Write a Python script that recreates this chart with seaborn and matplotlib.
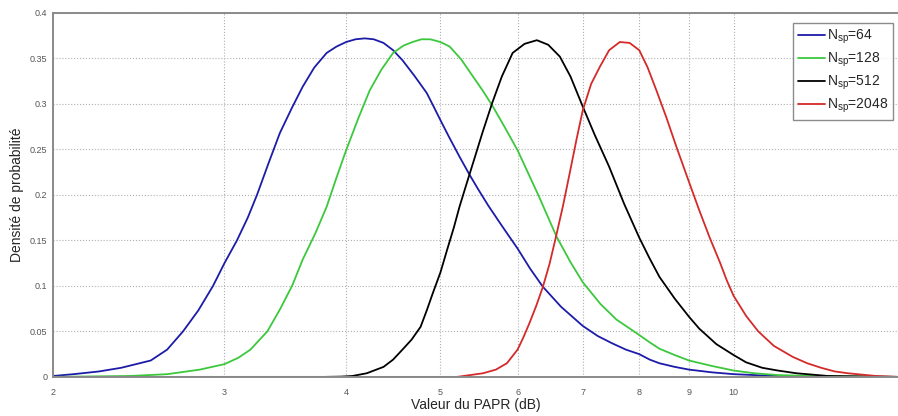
import numpy as np
import pandas as pd
import matplotlib
matplotlib.use("Agg")
import matplotlib.pyplot as plt
import seaborn as sns

# --- data (x in dB, y = density) ---
x_64 = [2.0, 2.1, 2.23, 2.35, 2.52, 2.62, 2.72, 2.82, 2.92, 3.0, 3.09, 3.17, 3.24,
        3.33, 3.42, 3.52, 3.61, 3.71, 3.82, 3.91, 4.0, 4.09, 4.18, 4.27, 4.37, 4.47,
        4.57, 4.7, 4.84, 4.92, 5.0, 5.1, 5.23, 5.35, 5.46, 5.6, 5.79, 6.0, 6.18, 6.37,
        6.65, 7.0, 7.25, 7.5, 7.75, 8.0, 8.2, 8.39, 8.7, 9.0, 9.5, 10.0, 10.5, 11.0,
        12.0, 14.75]
y_64 = [0.001, 0.003, 0.006, 0.010, 0.018, 0.030, 0.050, 0.073, 0.100, 0.125, 0.150,
        0.175, 0.200, 0.235, 0.268, 0.296, 0.319, 0.340, 0.356, 0.363, 0.368, 0.371,
        0.372, 0.371, 0.367, 0.359, 0.348, 0.331, 0.312, 0.297, 0.282, 0.264, 0.242,
        0.223, 0.207, 0.188, 0.165, 0.141, 0.119, 0.099, 0.077, 0.056, 0.045, 0.037,
        0.030, 0.025, 0.019, 0.015, 0.011, 0.008, 0.005, 0.003, 0.002, 0.001, 0.0, 0.0]

x_128 = [2.0, 2.4, 2.62, 2.83, 3.0, 3.1, 3.19, 3.32, 3.42, 3.52, 3.61, 3.72, 3.82,
         3.91, 4.0, 4.12, 4.23, 4.35, 4.47, 4.58, 4.68, 4.78, 4.88, 5.0, 5.11, 5.25,
         5.40, 5.53, 5.66, 5.83, 6.0, 6.3, 6.58, 6.8, 7.0, 7.3, 7.58, 7.8, 8.0, 8.2,
         8.39, 8.7, 9.0, 9.5, 10.0, 10.5, 11.1, 12.0, 14.75]
y_128 = [0.0, 0.001, 0.003, 0.008, 0.014, 0.021, 0.030, 0.050, 0.074, 0.100, 0.129,
         0.158, 0.187, 0.219, 0.249, 0.285, 0.315, 0.338, 0.356, 0.364, 0.368, 0.371,
         0.371, 0.368, 0.363, 0.349, 0.330, 0.314, 0.297, 0.273, 0.249, 0.200, 0.154,
         0.126, 0.104, 0.080, 0.063, 0.054, 0.046, 0.038, 0.031, 0.024, 0.018, 0.012,
         0.007, 0.004, 0.002, 0.001, 0.0]

x_512 = [2.0, 3.8, 3.95, 4.06, 4.2, 4.37, 4.47, 4.57, 4.67, 4.77, 4.84, 4.91, 5.0,
         5.08, 5.16, 5.23, 5.31, 5.40, 5.52, 5.65, 5.78, 5.93, 6.1, 6.28, 6.45, 6.63,
         6.8, 7.0, 7.2, 7.45, 7.72, 8.0, 8.2, 8.39, 8.7, 9.0, 9.22, 9.6, 10.0, 10.3,
         10.7, 11.1, 11.6, 12.5, 14.75]
y_512 = [0.0, 0.0, 0.0003, 0.001, 0.004, 0.011, 0.019, 0.030, 0.041, 0.055, 0.073,
         0.092, 0.115, 0.140, 0.164, 0.187, 0.210, 0.235, 0.268, 0.301, 0.330, 0.356,
         0.366, 0.370, 0.365, 0.352, 0.330, 0.297, 0.266, 0.231, 0.190, 0.153, 0.130,
         0.110, 0.086, 0.066, 0.053, 0.036, 0.024, 0.016, 0.010, 0.007, 0.004, 0.001,
         0.0]

x_2048 = [2.0, 5.2, 5.53, 5.7, 5.85, 6.0, 6.08, 6.17, 6.27, 6.37, 6.47, 6.56, 6.68,
          6.79, 6.9, 7.0, 7.14, 7.29, 7.45, 7.64, 7.82, 8.0, 8.16, 8.33, 8.53, 8.74,
          9.0, 9.22, 9.45, 9.68, 9.84, 10.0, 10.3, 10.6, 11.0, 11.5, 11.9, 12.3, 12.7,
          13.1, 14.0, 14.75]
y_2048 = [0.0, 0.0, 0.004, 0.008, 0.015, 0.030, 0.043, 0.059, 0.078, 0.099, 0.124,
          0.151, 0.188, 0.225, 0.262, 0.293, 0.322, 0.341, 0.359, 0.368, 0.367, 0.359,
          0.340, 0.315, 0.285, 0.252, 0.214, 0.183, 0.153, 0.126, 0.106, 0.089, 0.067,
          0.050, 0.034, 0.022, 0.015, 0.010, 0.006, 0.004, 0.001, 0.0]

labels = [r'N$_\mathrm{sp}$=64', r'N$_\mathrm{sp}$=128',
          r'N$_\mathrm{sp}$=512', r'N$_\mathrm{sp}$=2048']
colors = ['#1c1ca8', '#3cc83c', '#000000', '#d42a2a']
x_ticks = [2, 3, 4, 5, 6, 7, 8, 9, 10]
y_ticks = [0, 0.05, 0.1, 0.15, 0.2, 0.25, 0.3, 0.35, 0.4]

frames = []
for xs, ys, lab in zip([x_64, x_128, x_512, x_2048], [y_64, y_128, y_512, y_2048], labels):
    frames.append(pd.DataFrame({'papr': xs, 'density': ys, 'Nsp': lab}))
df = pd.concat(frames, ignore_index=True)

sns.set_theme(style="white")
plt.rcParams['font.family'] = ['Liberation Sans', 'DejaVu Sans']
plt.rcParams['mathtext.fontset'] = 'custom'
plt.rcParams['mathtext.rm'] = 'Liberation Sans'

fig = plt.figure(figsize=(8.98, 4.16), dpi=100)
ax = fig.add_axes([0.059, 0.094, 0.941, 0.875])

sns.lineplot(data=df, x='papr', y='density', hue='Nsp', hue_order=labels,
             palette=colors, linewidth=1.3, sort=True, ax=ax, legend=True)

ax.set_xscale('log')
ax.set_xlim(2, 14.75)
ax.set_ylim(0, 0.4)
ax.set_xticks(x_ticks)
ax.set_xticklabels([str(t) for t in x_ticks])
ax.xaxis.set_minor_locator(matplotlib.ticker.NullLocator())
ax.set_yticks(y_ticks)
ax.set_yticklabels(['0', '0.05', '0.1', '0.15', '0.2', '0.25', '0.3', '0.35', '0.4'])

ax.grid(True, which='major', color='#b0b0b0', linestyle=':', linewidth=0.8)
ax.tick_params(direction='in', length=4, width=0.8, labelsize=6.5,
               labelcolor='#555555', color='#555555')
ax.tick_params(axis='x', pad=8)
ax.tick_params(axis='y', pad=4)
for side in ['left', 'top', 'bottom']:
    ax.spines[side].set_color('#8a8a8a')
    ax.spines[side].set_linewidth(1.4)
ax.spines['right'].set_visible(False)

ax.set_xlabel('Valeur du PAPR (dB)', fontsize=10, labelpad=1)
ax.set_ylabel('Densité de probabilité', fontsize=10, labelpad=4)

leg = ax.legend(loc='upper right', bbox_to_anchor=(0.994, 0.973), borderaxespad=0,
                fontsize=10, handlelength=2.0, handletextpad=0.1, labelspacing=0.35,
                fancybox=False, frameon=True, borderpad=0.35)
leg.get_frame().set_edgecolor('#707070')
leg.get_frame().set_linewidth(1.0)

plt.savefig('out.png', dpi=100)
